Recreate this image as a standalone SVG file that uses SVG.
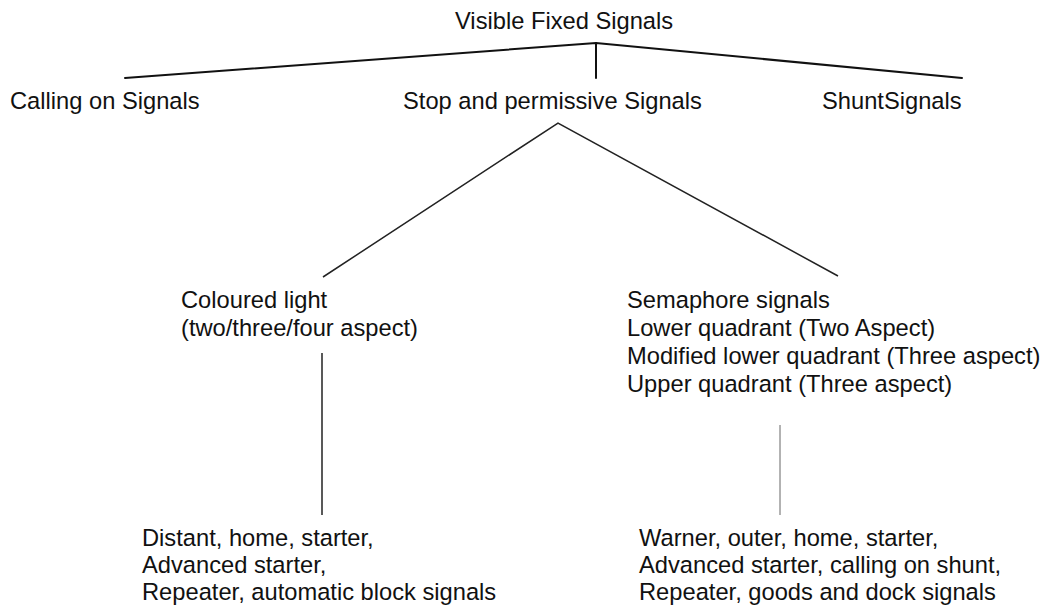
<svg xmlns="http://www.w3.org/2000/svg" width="1048" height="610" viewBox="0 0 1048 610">
<style>
text{font-family:"Liberation Sans",Arial,sans-serif;font-size:23.7px;fill:#111}
.c{stroke:#111;stroke-width:2;fill:none;stroke-linecap:round}
.t{stroke:#222;stroke-width:1.5;fill:none}
.f{stroke:#666;stroke-width:1;fill:none}
</style>
<rect width="1048" height="610" fill="#fff"/>
<g id="connectors">
<polyline class="c" points="125,78 596,43 962,78"/>
<line class="c" x1="596" y1="43" x2="596" y2="78"/>
<polyline class="t" points="323,277 558,123 838,276"/>
<line class="t" x1="322" y1="353" x2="322" y2="515"/>
<line class="f" x1="780" y1="425" x2="780" y2="515"/>
</g>
<g id="root"><text x="455" y="29">Visible Fixed Signals</text></g>
<g id="calling"><text x="10" y="109">Calling on Signals</text></g>
<g id="stop"><text x="403" y="109">Stop and permissive Signals</text></g>
<g id="shunt"><text x="822" y="109">ShuntSignals</text></g>
<g id="coloured"><text x="181" y="308">Coloured light</text><text x="181" y="336">(two/three/four aspect)</text></g>
<g id="semaphore"><text x="627" y="308">Semaphore signals</text><text x="627" y="336">Lower quadrant (Two Aspect)</text><text x="627" y="364">Modified lower quadrant (Three aspect)</text><text x="627" y="392">Upper quadrant (Three aspect)</text></g>
<g id="coloured-types"><text x="142" y="546">Distant, home, starter,</text><text x="142" y="573">Advanced starter,</text><text x="142" y="600">Repeater, automatic block signals</text></g>
<g id="semaphore-types"><text x="639" y="546">Warner, outer, home, starter,</text><text x="639" y="573">Advanced starter, calling on shunt,</text><text x="639" y="600">Repeater, goods and dock signals</text></g>
</svg>
